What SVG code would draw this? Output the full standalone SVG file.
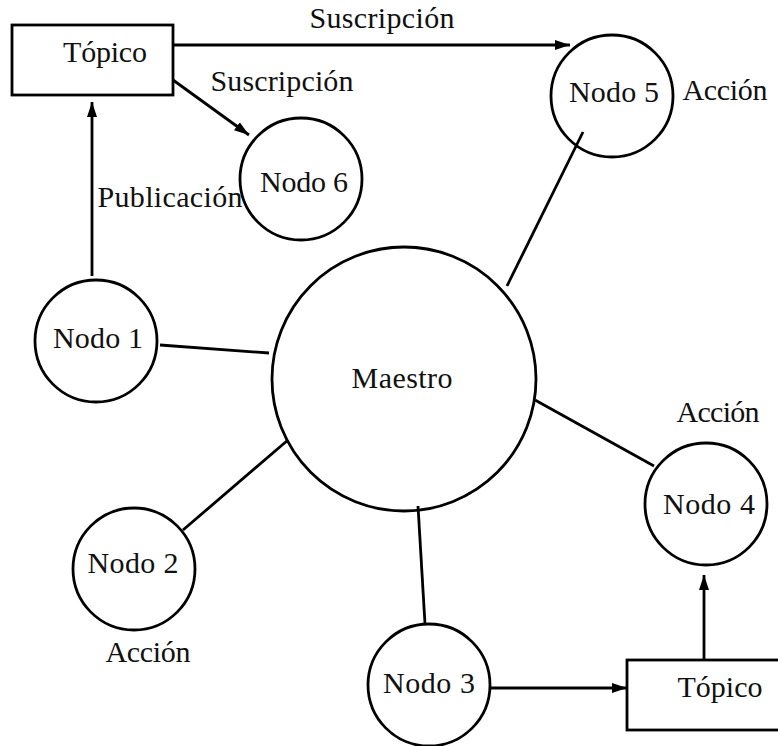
<svg xmlns="http://www.w3.org/2000/svg" width="778" height="746" viewBox="0 0 778 746">
<defs>
<style>
.n{fill:none;stroke:#000;stroke-width:2.8}
.t{font-family:"Liberation Serif",serif;font-size:30px;fill:#111;text-anchor:middle}
.c{fill:none;stroke:#000;stroke-width:2.8}
.a{fill:none;stroke:#000;stroke-width:2.8;marker-end:url(#ah)}
</style>
<marker id="ah" markerUnits="userSpaceOnUse" markerWidth="16" markerHeight="12" viewBox="0 0 16 12" refX="15" refY="6" orient="auto">
<path d="M0,1 L15,6 L0,11 Z" fill="#000"/>
</marker>
</defs>
<rect width="778" height="746" fill="#fff"/>
<g id="connectors">
<line class="a" x1="173" y1="45" x2="570" y2="45"/>
<line class="a" x1="173" y1="80" x2="249" y2="135"/>
<line class="a" x1="92" y1="276" x2="92" y2="102"/>
<line class="a" x1="491" y1="688" x2="627" y2="688"/>
<line class="a" x1="704" y1="660" x2="704" y2="575"/>
<line class="c" x1="160" y1="345" x2="269" y2="353"/>
<line class="c" x1="288" y1="440" x2="183" y2="530"/>
<line class="c" x1="418" y1="506" x2="425" y2="624"/>
<line class="c" x1="535" y1="400" x2="654" y2="466"/>
<line class="c" x1="507" y1="286" x2="583" y2="132"/>
<text class="t" x="382" y="28" textLength="145">Suscripción</text>
<text class="t" x="282" y="91" textLength="143">Suscripción</text>
<text class="t" x="170" y="207" textLength="145">Publicación</text>
<text class="t" x="725" y="100" textLength="85">Acción</text>
<text class="t" x="718" y="422" textLength="83">Acción</text>
<text class="t" x="148" y="662" textLength="85">Acción</text>
</g>
<g id="topico1">
<rect class="n" x="12" y="25" width="161" height="70"/>
<text class="t" x="105" y="62" textLength="84">Tópico</text>
</g>
<g id="nodo6">
<circle class="n" cx="301" cy="179" r="61"/>
<text class="t" x="304" y="192" textLength="88">Nodo 6</text>
</g>
<g id="nodo5">
<circle class="n" cx="612" cy="96" r="61"/>
<text class="t" x="614" y="102" textLength="90">Nodo 5</text>
</g>
<g id="nodo1">
<circle class="n" cx="96" cy="341" r="61"/>
<text class="t" x="98" y="348" textLength="90">Nodo 1</text>
</g>
<g id="maestro">
<circle class="n" cx="404" cy="379" r="132"/>
<text class="t" x="402" y="388" textLength="101">Maestro</text>
</g>
<g id="nodo2">
<circle class="n" cx="134" cy="569" r="61"/>
<text class="t" x="133" y="573" textLength="91">Nodo 2</text>
</g>
<g id="nodo3">
<circle class="n" cx="429" cy="685" r="61"/>
<text class="t" x="429" y="693" textLength="92">Nodo 3</text>
</g>
<g id="nodo4">
<circle class="n" cx="706" cy="504" r="61"/>
<text class="t" x="709" y="514" textLength="92">Nodo 4</text>
</g>
<g id="topico2">
<rect class="n" x="627" y="660" width="162" height="70"/>
<text class="t" x="720" y="697" textLength="85">Tópico</text>
</g>
</svg>
